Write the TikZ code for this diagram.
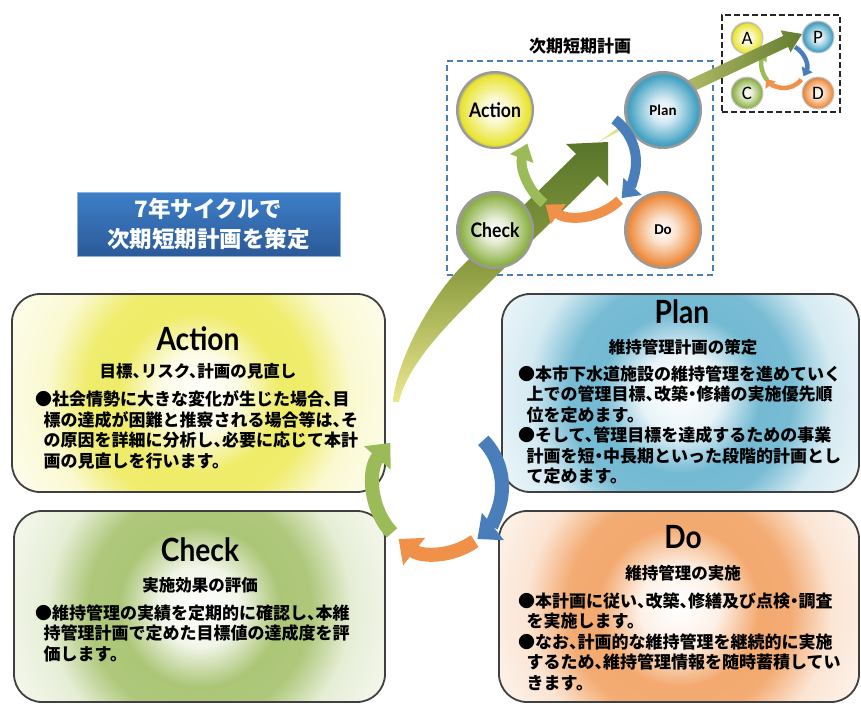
\documentclass[tikz,border=0pt]{standalone}
\usepackage{fontspec}
\setmainfont{Noto Sans CJK JP}[RawFeature=+halt]
\newfontfamily\ttlfont{Lato}[FakeStretch=0.88]
\newfontfamily\ballfont{Carlito}
\usepackage{tikz}
\usetikzlibrary{arrows.meta,positioning}

\definecolor{actcol}{HTML}{E9E42E}
\definecolor{plancol}{HTML}{3E9FC2}
\definecolor{chkcol}{HTML}{8CB043}
\definecolor{docol}{HTML}{EE8838}
\definecolor{cycblue}{HTML}{4A7EBB}
\definecolor{cycorange}{HTML}{F0914A}
\definecolor{cycgreen}{HTML}{9BBB59}
\definecolor{banddark}{HTML}{58752A}
\definecolor{bandmid}{HTML}{8E9E42}
\definecolor{bandlight}{HTML}{ECE88E}
\definecolor{titletop}{HTML}{3D7FC8}
\definecolor{titlebot}{HTML}{2B5A98}

% ring shading for the phase boxes, glossy shading for the balls (25bp = edge)
\newcommand\mkring[2]{\pgfdeclareradialshading{#1}{\pgfpoint{0bp}{0bp}}{%
  color(0bp)=(white); color(5bp)=(#2!12); color(10bp)=(#2!72); color(14bp)=(#2!70);
  color(19bp)=(#2!22); color(25bp)=(#2!10); color(50bp)=(#2!10)}}
\newcommand\mkball[2]{\pgfdeclareradialshading{#1}{\pgfpoint{0bp}{0bp}}{%
  color(0bp)=(white); color(8bp)=(#2!22); color(19bp)=(#2!78); color(23bp)=(#2);
  color(25bp)=(black!40); color(50bp)=(black!40)}}
\mkring{actring}{actcol}
\mkring{planring}{plancol}
\mkring{chkring}{chkcol}
\mkring{doring}{docol}
\mkball{actball}{actcol}
\mkball{planball}{plancol}
\mkball{chkball}{chkcol}
\mkball{doball}{docol}

\newcommand\ind{\hspace*{0.5em}}

\begin{document}
\begin{tikzpicture}[
  x=1pt, y=1pt,
  phasebox/.style={draw=black!75, line width=1.8pt, rounded corners=28pt},
  boxttl/.style={font=\ttlfont\bfseries\fontsize{32}{32}\selectfont, anchor=base, inner sep=0pt},
  boxsub/.style={font=\bfseries\fontsize{16.5}{16.5}\selectfont, inner sep=0pt},
  bodytxt/.style={font=\bfseries\fontsize{17}{20.5}\selectfont, align=left, anchor=north west, inner sep=0pt},
  ball/.style={circle, shade, draw=black!40, line width=2pt, minimum size=76pt, inner sep=0pt},
  miniball/.style={circle, shade, draw=black!20, line width=1pt, minimum size=32pt, inner sep=0pt,
    font=\ballfont\fontsize{19}{19}\selectfont},
  cyc/.style={line width=14pt, -{Triangle[length=20pt,width=34pt]}},
  midcyc/.style={line width=10pt, -{Triangle[length=16pt,width=24pt]}},
  minicyc/.style={line width=4.5pt, -{Triangle[length=8pt,width=12pt]}}
]
\useasboundingbox (0,0) rectangle (861,-706);

% four phase boxes
\node[phasebox, minimum width=373pt, minimum height=198pt,
  path picture={\shade[shading=actring] (path picture bounding box.center) circle (200pt);}] (act) at (198.5,-393) {};
\node[phasebox, minimum width=357pt, minimum height=198pt,
  path picture={\shade[shading=planring] (path picture bounding box.center) circle (200pt);}] (plan) at (680.5,-393) {};
\node[phasebox, minimum width=371pt, minimum height=191pt,
  path picture={\shade[shading=chkring] (path picture bounding box.center) circle (200pt);}] (chk) at (199.5,-606.5) {};
\node[phasebox, minimum width=360pt, minimum height=191pt,
  path picture={\shade[shading=doring] (path picture bounding box.center) circle (200pt);}] (do) at (679,-606.5) {};

\node[boxttl] (actT) at (198,-350) {Action};
\node[boxsub] (actS) at (198,-371) {目標、リスク、計画の見直し};
\node[bodytxt] (actB) at (35,-390.5) {●社会情勢に大きな変化が生じた場合、目\\
  \ind 標の達成が困難と推察される場合等は、そ\\
  \ind の原因を詳細に分析し、必要に応じて本計\\
  \ind 画の見直しを行います。};

\node[boxttl] (planT) at (682,-323) {Plan};
\node[boxsub] (planS) at (683,-347) {維持管理計画の策定};
\node[bodytxt] (planB) at (518,-365.5) {●本市下水道施設の維持管理を進めていく\\
  \ind 上での管理目標、改築・修繕の実施優先順\\
  \ind 位を定めます。\\
  ●そして、管理目標を達成するための事業\\
  \ind 計画を短・中長期といった段階的計画とし\\
  \ind て定めます。};

\node[boxttl] (chkT) at (200,-561) {Check};
\node[boxsub] (chkS) at (200,-585) {実施効果の評価};
\node[bodytxt] (chkB) at (35,-604.5) {●維持管理の実績を定期的に確認し、本維\\
  \ind 持管理計画で定めた目標値の達成度を評\\
  \ind 価します。};

\node[boxttl] (doT) at (683,-548) {Do};
\node[boxsub] (doS) at (683,-573) {維持管理の実施};
\node[bodytxt] (doB) at (518,-592.5) {●本計画に従い、改築、修繕及び点検・調査\\
  \ind を実施します。\\
  ●なお、計画的な維持管理を継続的に実施\\
  \ind するため、維持管理情報を随時蓄積してい\\
  \ind きます。};

% seven-year cycle label
\node[minimum width=263pt, minimum height=64pt, top color=titletop, bottom color=titlebot,
  draw=titletop!60!white, line width=0.8pt, text=white, align=center,
  font=\bfseries\fontsize{22.5}{30}\selectfont] (cycle7) at (208.5,-224) {7年サイクルで\\次期短期計画を策定};

% next short-term plan frame
\node[draw=cycblue, dash pattern=on 6pt off 4pt, line width=1.4pt, minimum width=266pt, minimum height=214pt] (nextbox) at (580,-168) {};
\node[font=\bfseries\fontsize{17}{17}\selectfont, above=3pt of nextbox] (nextlbl) {次期短期計画};

% PDCA mini frame
\node[draw=black!85, dash pattern=on 6pt off 3pt, line width=1.5pt, minimum width=118pt, minimum height=97pt] (minibox) at (781,-63.5) {};
\node[miniball, shading=actball] (mA) at (747,-38) {A};
\node[miniball, shading=planball] (mP) at (818,-37) {P};
\node[miniball, shading=chkball] (mC) at (747,-93) {C};
\node[miniball, shading=doball] (mD) at (818,-93) {D};
\coordinate (miniloop) at (784,-66);
\draw[minicyc, cycblue] ([shift={(60:22)}]miniloop) arc[start angle=60, end angle=-28, radius=22];
\draw[minicyc, cycorange] ([shift={(-38:22)}]miniloop) arc[start angle=-38, end angle=-145, radius=22];
\draw[minicyc, cycgreen] ([shift={(-140:22)}]miniloop) arc[start angle=-140, end angle=-218, radius=22];

% band from Action up to the next plan
\shade[top color=banddark, bottom color=bandlight, middle color=bandmid]
  (393,-402) .. controls (396,-360) and (432,-296) .. (462,-266)
  -- (576,-154) -- (566,-144) -- (608,-142) -- (608,-186) -- (598,-176)
  -- (484,-288) .. controls (452,-320) and (408,-362) .. (399,-402) -- cycle;
% band from Plan to the mini frame
\shade[left color=bandlight, right color=banddark!80!bandmid]
  (597,-143) -- (680,-84) -- (783.1,-35.9) -- (780.7,-30.4) -- (802,-34)
  -- (790.5,-52.4) -- (788.1,-46.9) -- (690,-93) -- cycle;

% balls
\node[ball, shading=actball] (actO) at (495,-110) {\ttlfont\bfseries\fontsize{20}{20}\selectfont Action};
\node[ball, shading=planball] (planO) at (663,-110) {\ballfont\bfseries\fontsize{15}{15}\selectfont Plan};
\node[ball, shading=chkball] (chkO) at (495,-230) {\ttlfont\bfseries\fontsize{20}{20}\selectfont Check};
\node[ball, shading=doball] (doO) at (663,-230) {\ballfont\bfseries\fontsize{15}{15}\selectfont Do};

\coordinate (midloop) at (580,-162);
\draw[midcyc, cycblue] ([shift={(52:56 and 54)}]midloop) arc[start angle=52, end angle=-42, x radius=56, y radius=54];
\draw[midcyc, cycorange] ([shift={(-45:56 and 54)}]midloop) arc[start angle=-45, end angle=-128, x radius=56, y radius=54];
\draw[midcyc, cycgreen] ([shift={(-130:56 and 54)}]midloop) arc[start angle=-130, end angle=-200, x radius=56, y radius=54];

% main cycle between the boxes
\coordinate (loop) at (438,-487);
\draw[cyc, cycblue] ([shift={(45:64 and 66)}]loop) arc[start angle=45, end angle=-52, x radius=64, y radius=66];
\draw[cyc, cycorange] ([shift={(-55:64 and 66)}]loop) arc[start angle=-55, end angle=-128, x radius=64, y radius=66];
\draw[cyc, cycgreen] ([shift={(-136:64 and 66)}]loop) arc[start angle=-136, end angle=-222, x radius=64, y radius=66];

\end{tikzpicture}
\end{document}
